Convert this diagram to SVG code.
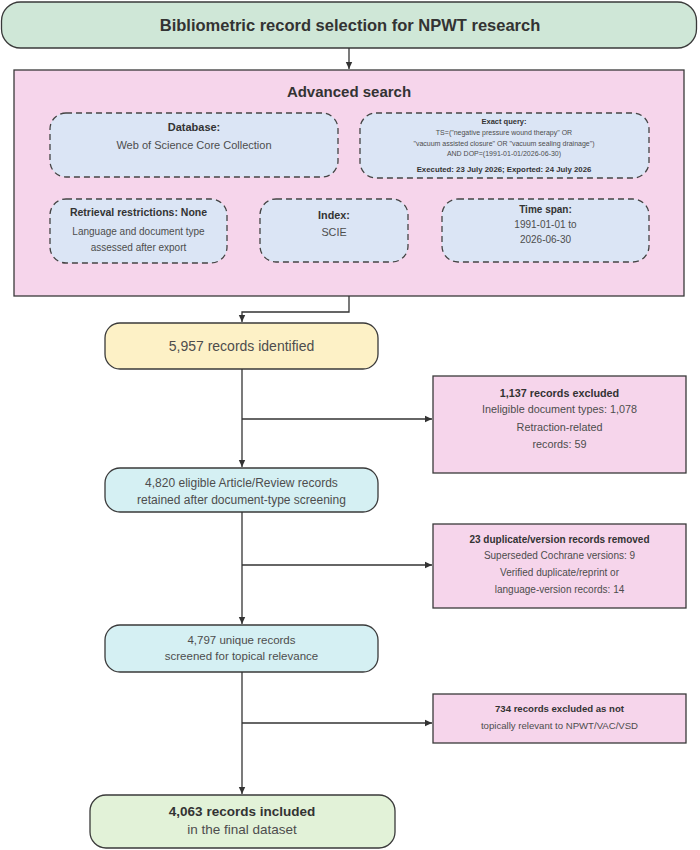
<svg xmlns="http://www.w3.org/2000/svg" width="700" height="850" viewBox="0 0 700 850">
<defs>
<marker id="arr" markerWidth="8" markerHeight="8" refX="7" refY="4" orient="auto" markerUnits="userSpaceOnUse">
<path d="M0,0.8 L7,4 L0,7.2 Z" fill="#333"/>
</marker>
<style>
text{font-family:"Liberation Sans",Arial,sans-serif;text-anchor:middle;fill:#4d4d4d}
.b{font-weight:bold;fill:#333}
.box{stroke:#3a3a3a;stroke-width:1.3}
.dash{fill:#dbe5f5;stroke:#444;stroke-width:1.3;stroke-dasharray:6 4}
.pink{fill:#f6d5eb}
.conn{fill:none;stroke:#333;stroke-width:1.3}
</style>
</defs>
<g id="title">
<rect class="box" x="1.5" y="2" width="695" height="46" rx="19" fill="#cfe7d7"/>
<text class="b" x="350" y="30.5" font-size="16.5">Bibliometric record selection for NPWT research</text>
</g>
<g id="advanced-search">
<rect class="box pink" x="14" y="70" width="670" height="226"/>
<text class="b" x="349" y="96.5" font-size="15">Advanced search</text>
</g>
<g id="database">
<rect class="dash" x="50" y="113" width="288" height="64" rx="16"/>
<text class="b" x="194" y="131" font-size="11">Database:</text>
<text x="194" y="149" font-size="11">Web of Science Core Collection</text>
</g>
<g id="exact-query">
<rect class="dash" x="360" y="113" width="289" height="65" rx="16"/>
<text class="b" x="504" y="124" font-size="7.5">Exact query:</text>
<text x="504" y="134.8" font-size="7">TS=("negative pressure wound therapy" OR</text>
<text x="504" y="145.6" font-size="7">"vacuum assisted closure" OR "vacuum sealing drainage")</text>
<text x="504" y="156.4" font-size="7">AND DOP=(1991-01-01/2026-06-30)</text>
<text class="b" x="504" y="171.7" font-size="7.8">Executed: 23 July 2026; Exported: 24 July 2026</text>
</g>
<g id="retrieval">
<rect class="dash" x="50" y="199" width="177" height="64" rx="16"/>
<text class="b" x="138.5" y="215.7" font-size="10.5">Retrieval restrictions: None</text>
<text x="138.5" y="234.5" font-size="10">Language and document type</text>
<text x="138.5" y="250.5" font-size="10">assessed after export</text>
</g>
<g id="index">
<rect class="dash" x="260" y="199" width="148" height="63" rx="16"/>
<text class="b" x="334" y="218.8" font-size="10.8">Index:</text>
<text x="334" y="235.8" font-size="10.8">SCIE</text>
</g>
<g id="time-span">
<rect class="dash" x="442" y="199" width="207" height="63" rx="16"/>
<text class="b" x="545.5" y="212.5" font-size="10">Time span:</text>
<text x="545.5" y="227.5" font-size="10">1991-01-01 to</text>
<text x="545.5" y="242.5" font-size="10">2026-06-30</text>
</g>
<g id="identified">
<rect class="box" x="105" y="323" width="273" height="46" rx="15" fill="#fdf1c6"/>
<text x="241.5" y="351" font-size="14">5,957 records identified</text>
</g>
<g id="excluded-1">
<rect class="box pink" x="433" y="376" width="253" height="97"/>
<text class="b" x="559.5" y="396.5" font-size="10.8">1,137 records excluded</text>
<text x="559.5" y="413.2" font-size="10.8">Ineligible document types: 1,078</text>
<text x="559.5" y="430.5" font-size="10.8">Retraction-related</text>
<text x="559.5" y="447.8" font-size="10.8">records: 59</text>
</g>
<g id="eligible">
<rect class="box" x="105" y="468" width="273" height="44" rx="15" fill="#d5f0f3"/>
<text x="241.5" y="487" font-size="12">4,820 eligible Article/Review records</text>
<text x="241.5" y="504" font-size="12">retained after document-type screening</text>
</g>
<g id="excluded-2">
<rect class="box pink" x="433" y="524" width="253" height="84"/>
<text class="b" x="559.5" y="542.5" font-size="10">23 duplicate/version records removed</text>
<text x="559.5" y="558.5" font-size="10">Superseded Cochrane versions: 9</text>
<text x="559.5" y="575.5" font-size="10">Verified duplicate/reprint or</text>
<text x="559.5" y="592.5" font-size="10">language-version records: 14</text>
</g>
<g id="unique">
<rect class="box" x="105" y="625" width="273" height="47" rx="15" fill="#d5f0f3"/>
<text x="241.5" y="644" font-size="11.5">4,797 unique records</text>
<text x="241.5" y="660" font-size="11.5">screened for topical relevance</text>
</g>
<g id="excluded-3">
<rect class="box pink" x="433" y="694" width="253" height="49"/>
<text class="b" x="559.5" y="712.3" font-size="9.6">734 records excluded as not</text>
<text x="559.5" y="729.3" font-size="9.6">topically relevant to NPWT/VAC/VSD</text>
</g>
<g id="included">
<rect class="box" x="90" y="795" width="305" height="53" rx="16" fill="#e2f2d8"/>
<text class="b" x="242" y="816" font-size="13.5">4,063 records included</text>
<text x="242" y="834" font-size="13.5">in the final dataset</text>
</g>
<g id="connectors">
<path class="conn" d="M349,48 V69" marker-end="url(#arr)"/>
<path class="conn" d="M349,296 V312 H242 V322" marker-end="url(#arr)"/>
<path class="conn" d="M242,369 V467" marker-end="url(#arr)"/>
<path class="conn" d="M242,419 H432" marker-end="url(#arr)"/>
<path class="conn" d="M242,512 V624" marker-end="url(#arr)"/>
<path class="conn" d="M242,565 H432" marker-end="url(#arr)"/>
<path class="conn" d="M242,672 V794" marker-end="url(#arr)"/>
<path class="conn" d="M242,723 H432" marker-end="url(#arr)"/>
</g>
</svg>
